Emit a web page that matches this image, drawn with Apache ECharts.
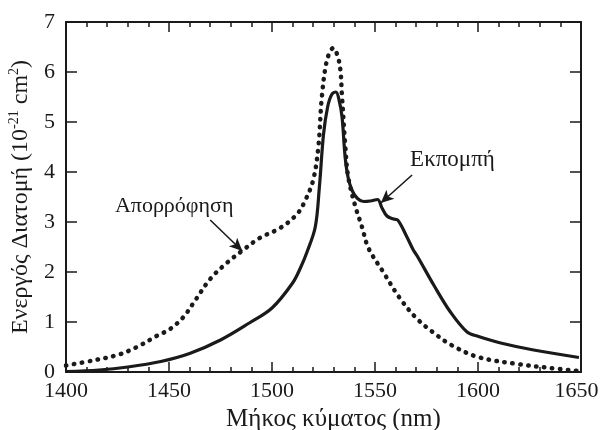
<!DOCTYPE html>
<html>
<head>
<meta charset="utf-8">
<script src="https://cdn.jsdelivr.net/npm/echarts@6/dist/echarts.min.js"></script>
<style>
html,body{margin:0;padding:0;background:#fff;}
#c{width:600px;height:430px;}
</style>
</head>
<body>
<div id="c"></div>
<script>
// Emission cross-section (solid line)
const emissionWl = [1400,1416,1430,1446,1460,1475,1489,1500,1510,1514,1517,1521,1523,1525,1527,1529,1531,1532.5,1534,1535.5,1537,1539,1541.5,1544.5,1547.7,1551.2,1553.4,1555.8,1559,1561,1565.5,1568.6,1570.5,1578.5,1586.6,1594.7,1600.3,1611,1627,1649];
const emissionVal = [0.01,0.04,0.1,0.21,0.37,0.64,0.98,1.28,1.78,2.1,2.4,2.9,3.7,4.75,5.3,5.55,5.6,5.45,5.1,4.3,3.88,3.62,3.47,3.41,3.42,3.45,3.28,3.12,3.06,3.04,2.7,2.44,2.32,1.74,1.2,0.8,0.71,0.58,0.44,0.29];
// Absorption cross-section (dotted line)
const absorptionWl = [1400,1413,1425,1434,1444,1450.5,1457,1463,1470,1478,1486,1494,1504,1512,1516,1520,1522.5,1524.2,1526.7,1529.7,1532.7,1534,1535.6,1537,1540.4,1543.7,1546.8,1554,1562,1570,1578,1587,1600,1619,1635,1649];
const absorptionVal = [0.13,0.23,0.34,0.49,0.72,0.86,1.1,1.45,1.86,2.18,2.44,2.68,2.88,3.15,3.42,3.84,4.5,5.5,6.24,6.48,6.18,5.5,4.5,3.9,3.32,2.9,2.48,2.0,1.48,1.08,0.8,0.54,0.3,0.16,0.08,0.02];
const xTicks = [1400,1450,1500,1550,1600,1650];
const yTicks = [0,1,2,3,4,5,6,7];

const zip = (a,b)=>a.map((v,i)=>[v,b[i]]);
const ink = '#1a1a1a';
const font = 'Liberation Serif';

const chart = echarts.init(document.getElementById('c'), null, {renderer:'canvas'});

const gridRect = {left:66, right:19, top:22, bottom:58, containLabel:false, outerBoundsMode:'none'};
const xMin = xTicks[0], xMax = xTicks[xTicks.length-1];
const yMin = yTicks[0], yMax = yTicks[yTicks.length-1];

const majorX = {
  type:'value', gridIndex:0, min:xMin, max:xMax, interval:50,
  axisLine:{show:true, onZero:false, lineStyle:{color:ink, width:2}},
  axisTick:{show:true, inside:true, length:10, lineStyle:{color:ink, width:1.5}},
  splitLine:{show:false}
};
const minorX = {
  type:'value', gridIndex:1, min:xMin, max:xMax, interval:10,
  axisLine:{show:false, onZero:false},
  axisTick:{show:true, inside:true, length:5, lineStyle:{color:ink, width:1.5}},
  axisLabel:{show:false},
  splitLine:{show:false}
};
const majorY = {
  type:'value', gridIndex:0, min:yMin, max:yMax, interval:1,
  axisLine:{show:true, onZero:false, lineStyle:{color:ink, width:2}},
  axisTick:{show:true, inside:true, length:11, lineStyle:{color:ink, width:1.5}},
  splitLine:{show:false}
};
const lbl = {color:ink, fontFamily:font, fontSize:22};

chart.setOption({
  animation:false,
  backgroundColor:'#fff',
  grid:[Object.assign({}, gridRect), Object.assign({}, gridRect)],
  xAxis:[
    Object.assign({}, majorX, {
      position:'bottom',
      axisLabel:Object.assign({show:true, margin:8,
        formatter:v=> v===xMax ? '{r|'+v+'}' : '{n|'+v+'}',
        rich:{n:Object.assign({}, lbl), r:Object.assign({padding:[0,9,0,0]}, lbl)}
      }, lbl),
      name:'Μήκος κύματος (nm)', nameLocation:'middle', nameGap:17,
      nameTextStyle:{color:ink, fontFamily:font, fontSize:25, padding:[0,0,0,20]}
    }),
    Object.assign({}, majorX, {position:'top', axisLabel:{show:false}}),
    Object.assign({}, minorX, {position:'bottom'}),
    Object.assign({}, minorX, {position:'top'})
  ],
  yAxis:[
    Object.assign({}, majorY, {
      position:'left',
      axisLabel:Object.assign({show:true, margin:11}, lbl),
      name:'{a|Ενεργός Διατομή (10}{s|-21}{a| cm}{s|2}{a|)}',
      nameLocation:'middle', nameGap:31, nameRotate:90,
      nameTextStyle:{
        color:ink, fontFamily:font, fontSize:24,
        rich:{
          a:{color:ink, fontFamily:font, fontSize:24, lineHeight:26, verticalAlign:'bottom'},
          s:{color:ink, fontFamily:font, fontSize:14, lineHeight:26, verticalAlign:'top'}
        }
      }
    }),
    Object.assign({}, majorY, {position:'right', axisLabel:{show:false}}),
    {type:'value', gridIndex:1, min:yMin, max:yMax, show:false}
  ],
  series:[
    {
      name:'Εκπομπή', type:'line', xAxisIndex:0, yAxisIndex:0,
      data:zip(emissionWl, emissionVal),
      showSymbol:false, smooth:0.35,
      lineStyle:{color:ink, width:3.2},
      markLine:{
        silent:true, symbol:['none','arrow'], symbolSize:[9,13],
        label:{show:false},
        lineStyle:{color:ink, width:1.6, type:'solid'},
        data:[[{coord:[1568,3.94]},{coord:[1552.8,3.38]}]]
      },
      markPoint:{
        silent:true, symbol:'circle', symbolSize:0,
        label:{show:true, color:ink, fontFamily:font, fontSize:23, formatter:'Εκπομπή'},
        data:[{coord:[1587.6,4.24]}]
      }
    },
    {
      name:'Απορρόφηση', type:'line', xAxisIndex:0, yAxisIndex:0,
      data:zip(absorptionWl, absorptionVal),
      showSymbol:false, smooth:0.35,
      lineStyle:{color:ink, width:4.5, type:[0.5,7.5], cap:'round'},
      markLine:{
        silent:true, symbol:['none','arrow'], symbolSize:[9,13],
        label:{show:false},
        lineStyle:{color:ink, width:1.6, type:'solid'},
        data:[[{coord:[1470,3.04]},{coord:[1485.6,2.42]}]]
      },
      markPoint:{
        silent:true, symbol:'circle', symbolSize:0,
        label:{show:true, color:ink, fontFamily:font, fontSize:22, formatter:'Απορρόφηση'},
        data:[{coord:[1452.5,3.32]}]
      }
    }
  ]
});
</script>
</body>
</html>
